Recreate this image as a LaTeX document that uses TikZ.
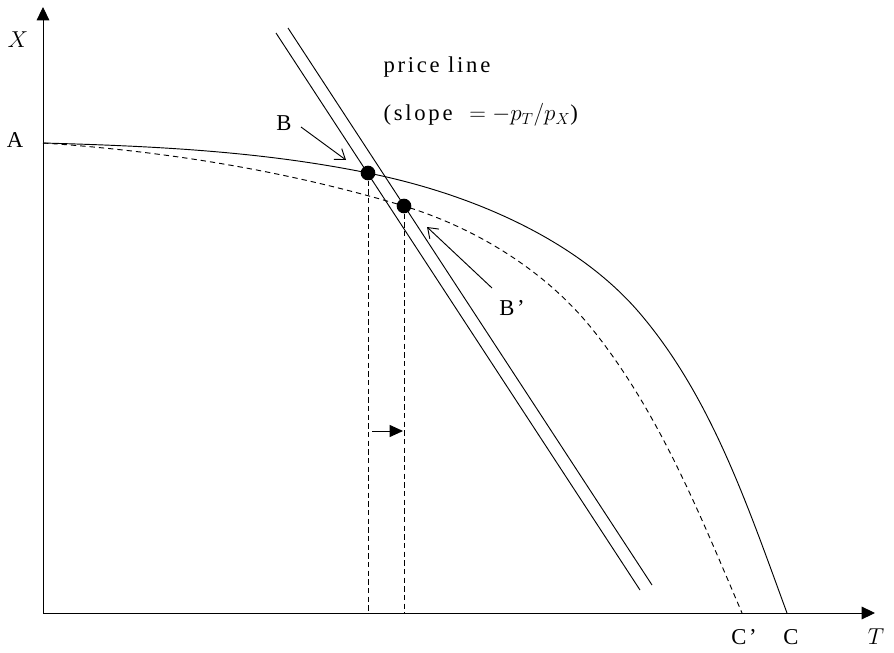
\documentclass[tikz,border=0pt]{standalone}
\usepackage{fontspec}
\setmainfont{Liberation Serif}[LetterSpace=12]
\usetikzlibrary{arrows.meta}

\begin{document}
\begin{tikzpicture}[x=0.75pt, y=-0.75pt, >=Latex,
        axis/.style={line width=0.7pt, -{Triangle[length=10pt, width=9.5pt]}},
        curve/.style={line width=0.7pt},
        frontier/.style={curve, dash pattern=on 4pt off 3pt},
        guide/.style={line width=0.7pt, dash pattern=on 4pt off 2.5pt},
        budget/.style={line width=0.7pt},
        pointer/.style={line width=0.7pt, -{Straight Barb[length=7pt, width=10pt]}},
        move/.style={line width=0.7pt, -{Triangle[length=10pt, width=9pt]}},
        dot/.style={circle, fill=black, inner sep=0pt, minimum size=11pt},
        lbl/.style={inner sep=1pt, font=\fontsize{17}{20}\selectfont}]

    \useasboundingbox (0,0) rectangle (894,653);

    % axes
    \coordinate (O) at (43,613);
    \coordinate (Ytop) at (43,7);
    \coordinate (Xend) at (875,613);
    \draw[axis] (O) -- (Ytop);
    \draw[axis] (O) -- (Xend);

    % production frontiers
    \coordinate (A) at (43,143);
    \coordinate (C) at (787,613);
    \coordinate (Cp) at (742,613);
    \draw[curve] (A) .. controls (151,146) and (260,151) .. (368,173)
        .. controls (463,192) and (571,235) .. (637,310)
        .. controls (711,395) and (748,507) .. (C);
    \draw[frontier] (A) .. controls (163,151) and (284,170) .. (404,206)
        .. controls (476,228) and (546,271) .. (593,330)
        .. controls (660,414) and (700,515) .. (Cp);

    % price lines
    \coordinate (P1top) at (276,33);
    \coordinate (P1bot) at (640,590);
    \coordinate (P2top) at (288,28);
    \coordinate (P2bot) at (652,585);
    \draw[budget] (P1top) -- (P1bot);
    \draw[budget] (P2top) -- (P2bot);

    % tangency points
    \node[dot] (B) at (368,173) {};
    \node[dot] (Bp) at (404,206) {};
    \coordinate (Bfoot) at (368,613);
    \coordinate (Bpfoot) at (404,613);
    \draw[guide] (B.south) -- (Bfoot);
    \draw[guide] (Bp.south) -- (Bpfoot);

    \coordinate (m1) at (372,431);
    \coordinate (m2) at (403,431);
    \draw[move] (m1) -- (m2);

    % labels
    \node[lbl] (Xlab) at (18,40) {$X$};
    \node[lbl] (Tlab) at (876,637) {$T$};
    \node[lbl] (Alab) at (15,140) {A};
    \node[lbl] (Clab) at (791,637) {C};
    \node[lbl] (Cplab) at (744,637) {C’};
    \node[lbl] (Blab) at (284,123) {B};
    \node[lbl] (Bplab) at (512,308) {B’};
    \node[lbl, anchor=west] (price) at (382,67) {price line};
    \node[lbl, anchor=west] (slope) at (382,115) {(slope \ $=-p_T/p_X$)};

    \coordinate (Btip) at (346,160);
    \coordinate (Bptip) at (427,227);
    \draw[pointer] (301,127) -- (Btip);
    \draw[pointer] (492,288) -- (Bptip);
\end{tikzpicture}
\end{document}
